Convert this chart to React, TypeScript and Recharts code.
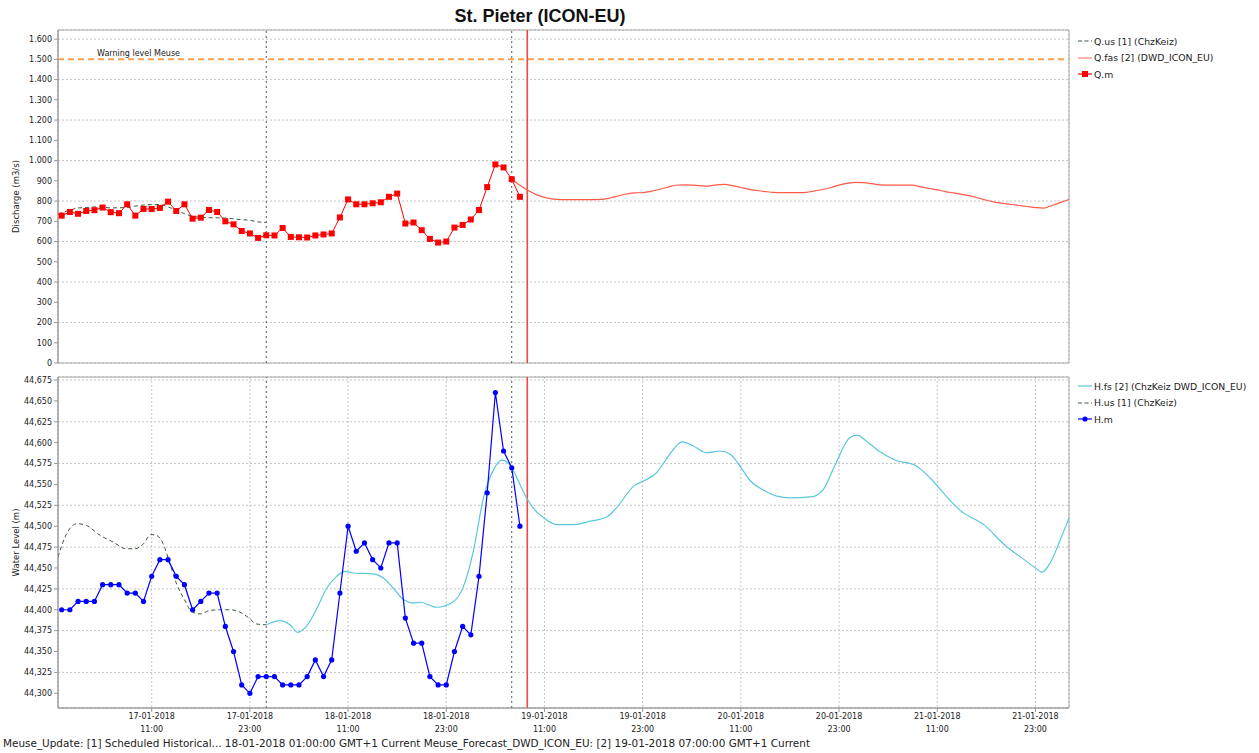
import React from 'react';
import { LineChart, Line, XAxis, YAxis, CartesianGrid, ReferenceLine, ReferenceArea } from 'recharts';

// ---------- data (hours counted from 17-01-2018 00:00, GMT+1) ----------
const X_DOMAIN: [number, number] = [-0.45, 123.1];
const xTicks = [11, 23, 35, 47, 59, 71, 83, 95, 107, 119];

const qTicks = [0, 100, 200, 300, 400, 500, 600, 700, 800, 900, 1000, 1100, 1200, 1300, 1400, 1500, 1600];
const hTicks = [44.3, 44.325, 44.35, 44.375, 44.4, 44.425, 44.45, 44.475, 44.5, 44.525, 44.55, 44.575, 44.6, 44.625, 44.65, 44.675];

const warningLevel = 1500;
const t0Hist = 25;   // 18-01-2018 01:00
const t0Fc = 55;     // 19-01-2018 07:00
const nowHour = 56.9;

// Q.m (measured discharge), hourly from hour 0
const qmHours = [0,1,2,3,4,5,6,7,8,9,10,11,12,13,14,15,16,17,18,19,20,21,22,23,24,25,26,27,28,29,30,31,32,33,34,35,36,37,38,39,40,41,42,43,44,45,46,47,48,49,50,51,52,53,54,55,56];
const qmValues = [728,746,737,751,755,768,745,740,784,728,761,761,766,797,751,784,713,718,756,746,700,685,652,640,618,631,630,667,623,621,620,630,635,640,719,808,784,784,789,794,821,837,689,694,656,613,595,600,669,682,709,756,869,981,966,908,821];

// Q.us [1] (ChzKeiz)
const qusHours = [-0.45,1,2,3,4,5,6,7,8,9,10,11,12,13,14,15,16,17,18,19,20,21,22,23,24,25];
const qusValues = [736,755,766,768,771,770,766,767,768,775,780,783,783,771,755,738,725,720,718,717,716,712,708,705,697,694];

// Q.fas [2] (DWD_ICON_EU)
const qfasHours = [55,56,57,58,59,60,62,64,66,67,68,69,70,71,72,73,74,75,76,77,78,79,80,81,82,83,84,85,86,87,88,90,91,92,93,94,95,96,97,98,99,100,102,104,105,106,107,108,109,110,111,112,113,114,115,116,117,118,119,120,121,122,123.1];
const qfasValues = [908,878,852,832,818,810,807,807,808,815,825,835,840,842,848,857,868,878,880,879,876,874,880,882,876,867,858,852,847,843,842,842,843,850,857,867,879,887,892,891,886,880,879,879,870,862,855,847,840,833,826,815,804,795,789,783,778,773,768,765,778,792,808];

// H.m (measured water level), hourly from hour 0
const hmHours = qmHours;
const hmValues = [44.40,44.40,44.41,44.41,44.41,44.43,44.43,44.43,44.42,44.42,44.41,44.44,44.46,44.46,44.44,44.43,44.40,44.41,44.42,44.42,44.38,44.35,44.31,44.30,44.32,44.32,44.32,44.31,44.31,44.31,44.32,44.34,44.32,44.34,44.42,44.50,44.47,44.48,44.46,44.45,44.48,44.48,44.39,44.36,44.36,44.32,44.31,44.31,44.35,44.38,44.37,44.44,44.54,44.66,44.59,44.57,44.50];

// H.us [1] (ChzKeiz)
const husHours = [-0.45,0.6,1.9,3,4.7,6.3,7.9,8.9,10,10.9,11.6,12.4,13.2,14,15,16,17,18,19.3,20.6,21.8,22.9,23.8,25];
const husValues = [44.463,44.491,44.503,44.501,44.489,44.481,44.473,44.473,44.479,44.490,44.489,44.479,44.456,44.432,44.412,44.397,44.395,44.399,44.400,44.400,44.397,44.390,44.383,44.382];

// H.fs [2] (ChzKeiz DWD_ICON_EU)
const hfsHours = [25,26.7,27.9,28.85,29.9,31.2,32.4,33.6,34.6,35.6,38.1,39.3,40.5,41.8,43,43.8,45.8,47.9,49.1,50.3,51.5,52.8,53.8,55,56,56.8,57.6,58.9,60.5,62.5,64.6,66.6,67.8,69.9,71.1,72.7,74.3,75.8,77.2,78.8,80.5,81.7,82.9,84.1,85.8,87.4,89,91.5,93,94.5,96.3,97.2,98.2,100,101.9,104.3,106.1,108,109.8,112.8,115.3,117.2,119,119.8,120.8,122,123.1];
const hfsValues = [44.382,44.387,44.382,44.373,44.38,44.402,44.426,44.44,44.446,44.444,44.443,44.438,44.426,44.412,44.408,44.409,44.403,44.41,44.428,44.47,44.532,44.568,44.579,44.57,44.55,44.534,44.522,44.51,44.502,44.502,44.506,44.511,44.522,44.548,44.554,44.564,44.586,44.601,44.596,44.588,44.59,44.586,44.572,44.555,44.543,44.536,44.534,44.535,44.543,44.573,44.606,44.609,44.603,44.589,44.579,44.573,44.558,44.537,44.519,44.501,44.477,44.463,44.45,44.445,44.456,44.483,44.51];

const Q_DOMAIN: [number, number] = [0, 1645];
const H_DOMAIN: [number, number] = [44.2824, 44.6786];

// ---------- helpers ----------
const zip = (hs: number[], vs: number[]) => hs.map((h, i) => ({ h, v: vs[i] }));
const qmData = zip(qmHours, qmValues);
const qusData = zip(qusHours, qusValues);
const qfasData = zip(qfasHours, qfasValues);
const hmData = zip(hmHours, hmValues);
const husData = zip(husHours, husValues);
const hfsData = zip(hfsHours, hfsValues);

const FONT = "'DejaVu Sans', Tahoma, sans-serif";
const GRID = '#C4C4C4';
const AXIS = '#999999';
const C_QM = '#FF0000';
const C_QFAS = '#FF5A48';
const C_US = '#3E5A3E';
const C_HM = '#0000FF';
const C_HFS = '#58C8DC';
const C_WARN = '#FFA050';
const C_NOW = '#EE4848';
const C_T0 = '#555555';

const fmtQ = (v: number) => (v >= 1000 ? `${Math.floor(v / 1000)}.${String(v % 1000).padStart(3, '0')}` : String(v));
const fmtH = (v: number) => v.toFixed(3).replace('.', ',');

const XTick = (props: any) => {
  const { x, y, payload } = props;
  const h = payload.value as number;
  const day = 17 + Math.floor(h / 24);
  const hr = h % 24;
  return (
    <g>
      <text x={x} y={y + 5} textAnchor="middle" fontSize={8} fontFamily={FONT} fill="#222">{`${day}-01-2018`}</text>
      <text x={x} y={y + 18} textAnchor="middle" fontSize={8} fontFamily={FONT} fill="#222">{`${String(hr).padStart(2, '0')}:00`}</text>
    </g>
  );
};

const SquareDot = (p: any) => (
  <rect key={`sq${p.index}`} x={p.cx - 3} y={p.cy - 3} width={6} height={6} fill={C_QM} />
);
const CircleDot = (p: any) => (
  <circle key={`ci${p.index}`} cx={p.cx} cy={p.cy} r={2.6} fill={C_HM} />
);

const yLabel = (text: string) => (p: any) => {
  const vb = p.viewBox || {};
  const cx = 16;
  const cy = (vb.y ?? 0) + (vb.height ?? 0) / 2;
  return (
    <text x={cx} y={cy} transform={`rotate(-90 ${cx} ${cy})`} textAnchor="middle" dominantBaseline="central" fontSize={8.5} fontFamily={FONT} fill="#222">{text}</text>
  );
};

const warnLabel = (p: any) => {
  const vb = p.viewBox || {};
  return (
    <text x={(vb.x ?? 0) + 39} y={(vb.y ?? 0) - 3} fontSize={8} fontFamily={FONT} fill="#222">Warning level Meuse</text>
  );
};

type LegendItem = { label: string; color: string; dashed?: boolean; marker?: 'square' | 'circle' };
const topLegend: LegendItem[] = [
  { label: 'Q.us [1] (ChzKeiz)', color: C_US, dashed: true },
  { label: 'Q.fas [2] (DWD_ICON_EU)', color: '#FF8070' },
  { label: 'Q.m', color: C_QM, marker: 'square' },
];
const bottomLegend: LegendItem[] = [
  { label: 'H.fs [2] (ChzKeiz DWD_ICON_EU)', color: C_HFS },
  { label: 'H.us [1] (ChzKeiz)', color: C_US, dashed: true },
  { label: 'H.m', color: C_HM, marker: 'circle' },
];

const Legend = ({ items, top }: { items: LegendItem[]; top: number }) => (
  <div style={{ position: 'absolute', left: 1077, top, fontFamily: FONT, fontSize: 9.3, color: '#222' }}>
    {items.map((it) => (
      <div key={it.label} style={{ height: 16.5, display: 'flex', alignItems: 'center', whiteSpace: 'nowrap' }}>
        <svg width={16} height={10} style={{ marginRight: 1 }}>
          <line x1={1} y1={5} x2={15} y2={5} stroke={it.color} strokeWidth={1.2} strokeDasharray={it.dashed ? '4 2.5' : undefined} />
          {it.marker === 'square' && <rect x={5} y={2} width={6} height={6} fill={it.color} />}
          {it.marker === 'circle' && <circle cx={8} cy={5} r={2.6} fill={it.color} />}
        </svg>
        <span>{it.label}</span>
      </div>
    ))}
  </div>
);

export default function App() {
  return (
    <div style={{ position: 'absolute', left: 0, top: 0, width: 1259, height: 753, background: '#fff', overflow: 'hidden' }}>
      <svg width={1259} height={30} style={{ position: 'absolute', left: 0, top: 0 }}>
        <text x={540} y={22} textAnchor="middle" fontSize={18} fontWeight="bold" fontFamily="'Liberation Sans', Arial, sans-serif" fill="#111">St. Pieter (ICON-EU)</text>
      </svg>

      <div style={{ position: 'absolute', left: 0, top: 0 }}>
        <LineChart width={1259} height={370} margin={{ top: 30, right: 190, bottom: 7, left: 10 }}>
          <CartesianGrid stroke={GRID} strokeDasharray="2 2" />
          <XAxis type="number" dataKey="h" domain={X_DOMAIN} ticks={xTicks} allowDataOverflow tick={false} tickLine={false} axisLine={false} height={0} />
          <YAxis type="number" domain={Q_DOMAIN} ticks={qTicks} allowDataOverflow width={48} tickFormatter={fmtQ}
            tick={{ fontSize: 8, fontFamily: FONT, fill: '#222' }} tickSize={4} tickMargin={2}
            axisLine={{ stroke: AXIS }} tickLine={{ stroke: AXIS }} label={{ content: yLabel('Discharge (m3/s)') }} />
          <ReferenceArea x1={X_DOMAIN[0]} x2={X_DOMAIN[1]} y1={Q_DOMAIN[0]} y2={Q_DOMAIN[1]} fill="none" stroke="#A8A8A8" strokeWidth={1} />
          <ReferenceLine y={warningLevel} stroke={C_WARN} strokeWidth={2} strokeDasharray="6 4" label={{ content: warnLabel }} />
          <ReferenceLine x={t0Hist} stroke={C_T0} strokeDasharray="2 3" />
          <ReferenceLine x={t0Fc} stroke={C_T0} strokeDasharray="2 3" />
          <ReferenceLine x={nowHour} stroke={C_NOW} strokeWidth={1.6} />
          <Line data={qusData} dataKey="v" type="monotone" stroke={C_US} strokeWidth={1} strokeDasharray="4 3" dot={false} isAnimationActive={false} />
          <Line data={qfasData} dataKey="v" type="monotone" stroke={C_QFAS} strokeWidth={1.2} dot={false} isAnimationActive={false} />
          <Line data={qmData} dataKey="v" type="linear" stroke={C_QM} strokeWidth={1} dot={SquareDot} isAnimationActive={false} />
        </LineChart>
      </div>

      <div style={{ position: 'absolute', left: 0, top: 370 }}>
        <LineChart width={1259} height={368} margin={{ top: 7, right: 190, bottom: 0, left: 10 }}>
          <CartesianGrid stroke={GRID} strokeDasharray="2 2" />
          <XAxis type="number" dataKey="h" domain={X_DOMAIN} ticks={xTicks} allowDataOverflow height={30}
            tick={<XTick />} tickSize={4} tickMargin={2} axisLine={{ stroke: AXIS }} tickLine={{ stroke: AXIS }} />
          <YAxis type="number" domain={H_DOMAIN} ticks={hTicks} allowDataOverflow width={48} tickFormatter={fmtH}
            tick={{ fontSize: 8, fontFamily: FONT, fill: '#222' }} tickSize={4} tickMargin={2}
            axisLine={{ stroke: AXIS }} tickLine={{ stroke: AXIS }} label={{ content: yLabel('Water Level (m)') }} />
          <ReferenceArea x1={X_DOMAIN[0]} x2={X_DOMAIN[1]} y1={H_DOMAIN[0]} y2={H_DOMAIN[1]} fill="none" stroke="#A8A8A8" strokeWidth={1} />
          <ReferenceLine x={t0Hist} stroke={C_T0} strokeDasharray="2 3" />
          <ReferenceLine x={t0Fc} stroke={C_T0} strokeDasharray="2 3" />
          <ReferenceLine x={nowHour} stroke={C_NOW} strokeWidth={1.6} />
          <Line data={husData} dataKey="v" type="monotone" stroke={C_US} strokeWidth={1} strokeDasharray="4 3" dot={false} isAnimationActive={false} />
          <Line data={hfsData} dataKey="v" type="monotone" stroke={C_HFS} strokeWidth={1.2} dot={false} isAnimationActive={false} />
          <Line data={hmData} dataKey="v" type="linear" stroke={C_HM} strokeWidth={1.2} dot={CircleDot} isAnimationActive={false} />
        </LineChart>
      </div>

      <Legend items={topLegend} top={33} />
      <Legend items={bottomLegend} top={378} />

      <svg width={1259} height={18} style={{ position: 'absolute', left: 0, top: 735 }}>
        <text x={3} y={12} fontSize={10.5} fontFamily={FONT} fill="#222" textLength={807} lengthAdjust="spacingAndGlyphs">Meuse_Update: [1] Scheduled Historical... 18-01-2018 01:00:00 GMT+1 Current Meuse_Forecast_DWD_ICON_EU: [2] 19-01-2018 07:00:00 GMT+1 Current</text>
      </svg>
    </div>
  );
}
